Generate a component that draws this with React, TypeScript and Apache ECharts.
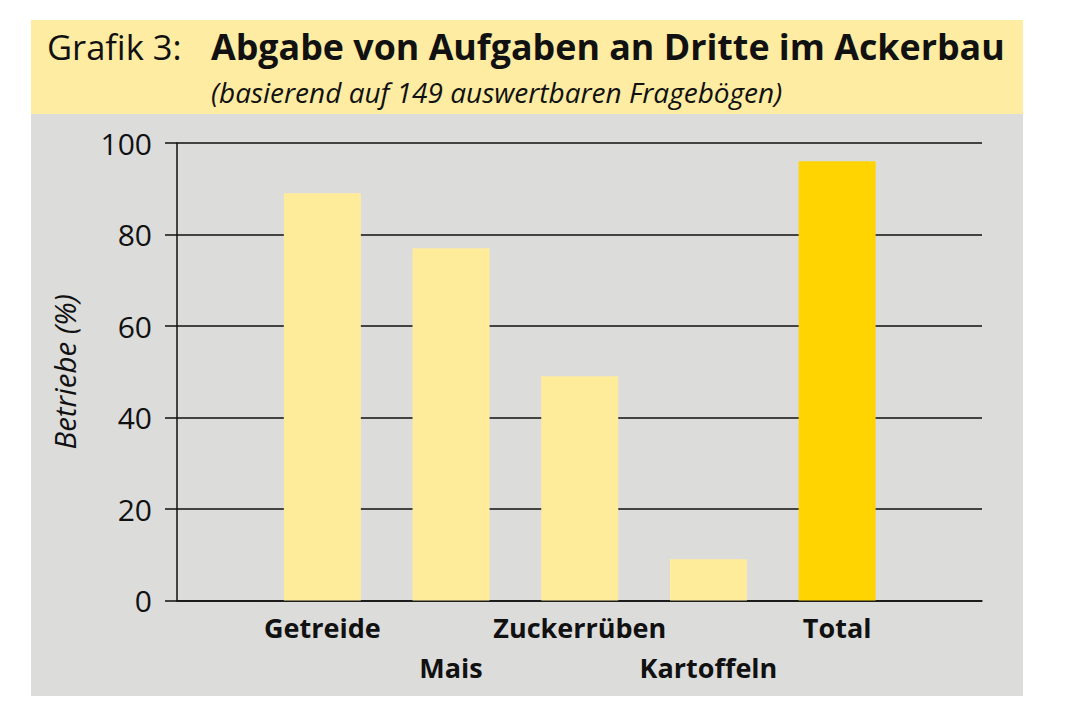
import React, { useEffect, useRef } from "react";
import * as echarts from "echarts";

const categories = ["Getreide", "Mais", "Zuckerrüben", "Kartoffeln", "Total"];
const values = [89, 77, 49, 9, 96];
const yTicks = [0, 20, 40, 60, 80, 100];

const FONT = "Open Sans";

export default function App() {
  const ref = useRef<HTMLDivElement>(null);
  useEffect(() => {
    if (!ref.current) return;
    const chart = echarts.init(ref.current, null, { renderer: "svg" });
    const barData = values.map((v, i) => ({
      value: v,
      itemStyle: { color: i === values.length - 1 ? "#FFD400" : "#FEEC9A" },
    }));
    chart.setOption({
      animation: false,
      backgroundColor: "#ffffff",
      textStyle: { fontFamily: FONT },
      graphic: [
        { type: "rect", shape: { x: 31, y: 20, width: 992, height: 676 }, style: { fill: "#DCDCDB" }, z: -10 },
        { type: "rect", shape: { x: 31, y: 20, width: 992, height: 94 }, style: { fill: "#FDECA2" }, z: -9 },
        {
          type: "text", x: 47, y: 46,
          style: { text: "Grafik 3:", fontFamily: FONT, fontSize: 34.5, fill: "#111", verticalAlign: "middle" },
        },
        {
          type: "text", x: 211, y: 46,
          style: { text: "Abgabe von Aufgaben an Dritte im Ackerbau", fontFamily: FONT, fontWeight: "bold", fontSize: 35.8, fill: "#111", verticalAlign: "middle" },
        },
        {
          type: "text", x: 211, y: 92,
          style: { text: "(basierend auf 149 auswertbaren Fragebögen)", fontFamily: FONT, fontStyle: "italic", fontSize: 28, fill: "#111", verticalAlign: "middle" },
        },
      ],
      grid: [
        { left: 177, top: 143, width: 805, height: 457.5 },
        { left: 258, top: 143, width: 643.5, height: 457.5 },
      ],
      xAxis: [
        {
          type: "category", gridIndex: 0, data: [""],
          axisLine: { show: true, lineStyle: { color: "#111", width: 1.5 } },
          axisTick: { show: false }, axisLabel: { show: false }, splitLine: { show: false },
        },
        {
          type: "category", gridIndex: 1, data: categories,
          axisLine: { show: false }, axisTick: { show: false }, splitLine: { show: false },
          axisLabel: {
            interval: 0, margin: 7, fontFamily: FONT, fontWeight: "bold", fontSize: 27, color: "#111", lineHeight: 40,
            formatter: (v: string) => (categories.indexOf(v) % 2 === 1 ? "\n" + v : v),
          },
        },
      ],
      yAxis: [
        {
          type: "value", gridIndex: 0, min: 0, max: 100, interval: 20,
          name: "Betriebe (%)", nameLocation: "middle", nameGap: 98, nameRotate: 90,
          nameTextStyle: { fontFamily: FONT, fontStyle: "italic", fontSize: 29.5, color: "#111" },
          axisLine: { show: true, lineStyle: { color: "#111", width: 1.5 } },
          axisTick: { show: true, length: 12, lineStyle: { color: "#111", width: 1.5 } },
          splitLine: { show: true, lineStyle: { color: "#111", width: 1.5 } },
          axisLabel: {
            margin: 25, fontFamily: FONT, fontSize: 30, color: "#111",
            formatter: (v: number) => (yTicks.includes(v) ? String(v) : ""),
          },
        },
        {
          type: "value", gridIndex: 1, min: 0, max: 100, interval: 20, show: false,
          splitLine: { show: false },
        },
      ],
      series: [
        {
          type: "bar", xAxisIndex: 1, yAxisIndex: 1, data: barData, barWidth: 77, z: 3,
        },
      ],
    });
    return () => chart.dispose();
  }, []);
  return (
    <div
      ref={ref}
      style={{ position: "absolute", left: 0, top: 0, width: 1072, height: 725 }}
    />
  );
}
